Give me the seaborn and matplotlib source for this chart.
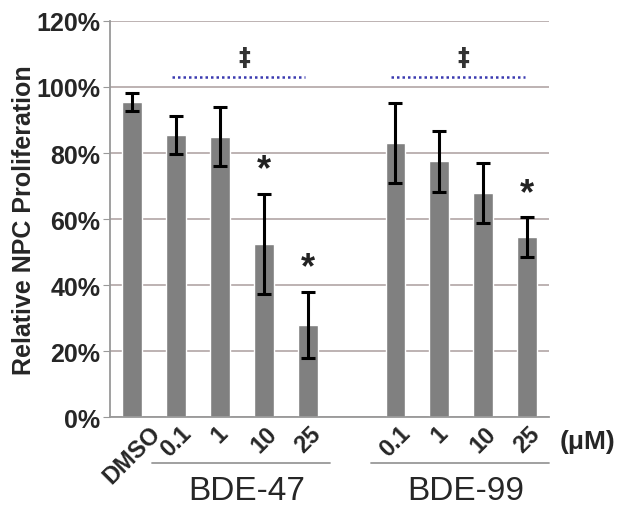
import numpy as np
import pandas as pd
import seaborn as sns
import matplotlib.pyplot as plt

# Dados
slots = ['DMSO', '47_0.1', '47_1', '47_10', '47_25', 'gap', '99_0.1', '99_1', '99_10', '99_25']
tick_labels = ['DMSO', '0.1', '1', '10', '25', '', '0.1', '1', '10', '25']
valores = [95.5, 85.5, 85.0, 52.5, 28.0, np.nan, 83.0, 77.5, 68.0, 54.5]
erros = [2.8, 5.8, 8.8, 15.2, 10.0, np.nan, 12.0, 9.2, 9.1, 6.0]
signif = [False, False, False, True, True, False, False, False, False, True]
grupos = ['BDE-47', 'BDE-99']
grupo_idx = [(1, 4), (6, 9)]

df = pd.DataFrame({'slot': slots, 'valor': valores, 'erro': erros})

sns.set_style('white')
plt.rcParams['font.family'] = ['Liberation Sans', 'DejaVu Sans']

fig = plt.figure(figsize=(6.19, 5.10), dpi=100)
ax = fig.add_axes([0.178, 0.180, 0.709, 0.777])

sns.barplot(x='slot', y='valor', data=df, order=slots, color='#808080',
            saturation=1, width=0.45, ax=ax)
x = np.arange(len(slots))
ax.errorbar(x, df['valor'], yerr=df['erro'], fmt='none', ecolor='black',
            elinewidth=2.2, capsize=5, capthick=2.2, zorder=5)

# Asteriscos
for i in range(len(slots)):
    if signif[i]:
        ax.text(i, valores[i] + erros[i] + 2, '*', ha='center', va='bottom',
                fontsize=26, fontweight='bold', color='#222222')

# Linhas pontilhadas e ‡
for a, b in grupo_idx:
    ax.plot([a - 0.1, b - 0.05], [103, 103], ls=(0, (1, 1.2)), color='#3a3ab0', lw=1.8)
    ax.text((a + b) / 2 + 0.05, 105.5, '‡', ha='center', va='bottom', fontsize=17,
            fontweight='bold', family='DejaVu Sans', color='#333333')

ax.set_ylim(0, 120)
ax.set_xlim(-0.5, 9.5)
ax.set_yticks(range(0, 121, 20))
ax.set_yticklabels([f'{v}%' for v in range(0, 121, 20)], fontsize=18, fontweight='bold')
ax.yaxis.grid(True, color='#b8acac', lw=1.3)
ax.set_axisbelow(True)
ax.tick_params(axis='y', length=5, color='#999999', pad=2, direction='out', left=True)

ax.set_xticks(x)
ax.set_xticklabels(tick_labels, rotation=45, fontsize=17, ha='center', fontweight='bold')
ax.tick_params(axis='x', length=0, pad=3)
ax.set_xticks(np.arange(-0.5, 10, 1), minor=True)
ax.tick_params(axis='x', which='minor', length=9, color='#999999', width=1.3, direction='out')

ax.set_xlabel('')
ax.set_ylabel('Relative NPC Proliferation', fontsize=18, fontweight='bold', labelpad=0)

for s in ['top', 'right']:
    ax.spines[s].set_visible(False)
for s in ['left', 'bottom']:
    ax.spines[s].set_color('#999999')
    ax.spines[s].set_linewidth(1.3)

# Rótulos dos grupos
for (a, b), nome in zip(grupo_idx, grupos):
    ax.plot([a - 0.55, b + 0.5], [-14, -14], color='#999999', lw=1.3, clip_on=False)
    ax.text((a + b) / 2 + 0.1, -17.5, nome, ha='center', va='top', fontsize=24)
ax.text(9.75, -3.5, '(μM)', ha='left', va='top', fontsize=19, fontweight='bold')

fig.savefig('out.png', dpi=100)
